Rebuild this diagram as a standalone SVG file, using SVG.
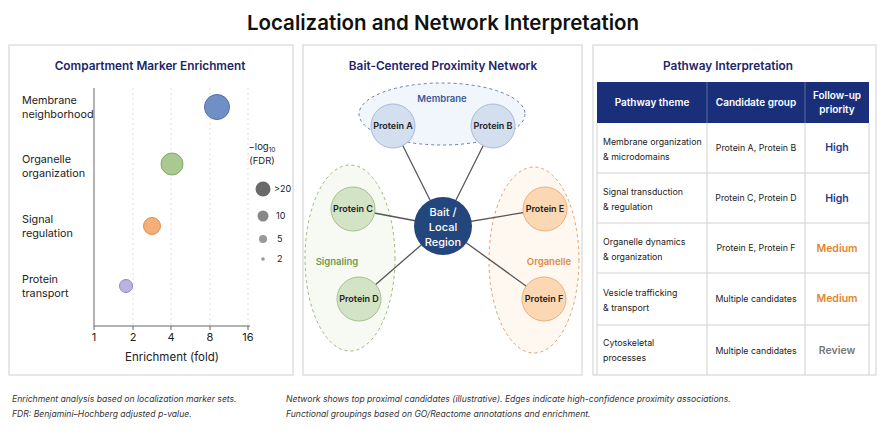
<svg xmlns="http://www.w3.org/2000/svg" width="887" height="443" viewBox="0 0 887 443">
<style>
text{font-family:"Inter","Liberation Sans",sans-serif;fill:#222}
.panel{fill:#fff;stroke:#d8d8d8;stroke-width:1.2}
.pt{font-size:11.8px;font-weight:600;fill:#1c2668;text-anchor:middle}
.lab{font-size:10.8px}
.tick{font-size:11px;text-anchor:middle}
.grid{stroke:#ddd;stroke-dasharray:2 3}
.node text{font-size:9px;font-weight:600;text-anchor:middle}
.edge{stroke:#555;stroke-width:1.3}
.grp{stroke-dasharray:3 3;stroke-width:1}
.th{font-size:10px;font-weight:600;fill:#fff;text-anchor:middle}
.td{font-size:8.8px}
.tl{stroke:#d0d0d0}
.foot{font-size:8.6px;font-style:italic;fill:#333}
</style>
<rect width="887" height="443" fill="#fff"/>
<text x="443" y="30" font-size="20.5" font-weight="600" text-anchor="middle" style="fill:#111">Localization and Network Interpretation</text>

<g id="panel-left">
<rect class="panel" x="9" y="45" width="284" height="330"/>
<text class="pt" x="150" y="70">Compartment Marker Enrichment</text>
<line class="grid" x1="133" y1="88" x2="133" y2="326"/>
<line class="grid" x1="171" y1="88" x2="171" y2="326"/>
<line class="grid" x1="210" y1="88" x2="210" y2="326"/>
<line class="grid" x1="248" y1="88" x2="248" y2="326"/>
<line x1="94" y1="88" x2="94" y2="326" stroke="#666"/>
<line x1="94" y1="326" x2="250" y2="326" stroke="#666"/>
<g stroke="#666"><line x1="94" y1="326" x2="94" y2="330"/><line x1="133" y1="326" x2="133" y2="330"/><line x1="171" y1="326" x2="171" y2="330"/><line x1="210" y1="326" x2="210" y2="330"/><line x1="248" y1="326" x2="248" y2="330"/></g>
<text class="tick" x="94" y="341">1</text><text class="tick" x="133" y="341">2</text><text class="tick" x="171" y="341">4</text><text class="tick" x="210" y="341">8</text><text class="tick" x="248" y="341">16</text>
<text x="172" y="361" font-size="11.5" text-anchor="middle">Enrichment (fold)</text>
<text class="lab" x="22" y="104">Membrane</text><text class="lab" x="22" y="118">neighborhood</text>
<text class="lab" x="22" y="163">Organelle</text><text class="lab" x="22" y="177">organization</text>
<text class="lab" x="22" y="223">Signal</text><text class="lab" x="22" y="237">regulation</text>
<text class="lab" x="22" y="283">Protein</text><text class="lab" x="22" y="297">transport</text>
<circle cx="217" cy="107" r="12.5" fill="#6f8fc6" stroke="#4e6fa8"/>
<circle cx="172" cy="164" r="11" fill="#a9c990" stroke="#82a86a"/>
<circle cx="152" cy="226" r="8.5" fill="#f3b07a" stroke="#dd8f50"/>
<circle cx="126" cy="286" r="6.5" fill="#b8b3e0" stroke="#8d88c4"/>
<text x="262" y="150" font-size="9.5" text-anchor="middle">−log<tspan font-size="6.5" dy="2">10</tspan></text>
<text x="262" y="164" font-size="9.5" text-anchor="middle">(FDR)</text>
<circle cx="263" cy="189" r="7.5" fill="#6a6a6a"/>
<circle cx="263" cy="216" r="5.5" fill="#888"/>
<circle cx="263" cy="239" r="4" fill="#999"/>
<circle cx="263" cy="259" r="1.8" fill="#999"/>
<text x="274" y="192" font-size="9">&gt;20</text>
<text x="276" y="219" font-size="9">10</text>
<text x="277" y="242" font-size="9">5</text>
<text x="277" y="262" font-size="9">2</text>
</g>

<g id="panel-middle">
<rect class="panel" x="303" y="45" width="279" height="330"/>
<text class="pt" x="443" y="70">Bait-Centered Proximity Network</text>
<ellipse class="grp" cx="442" cy="114" rx="83" ry="31" fill="#f1f6fc" stroke="#6c7fb0"/>
<ellipse class="grp" cx="350" cy="258" rx="45" ry="93" fill="#f6faf2" stroke="#9bb67f"/>
<ellipse class="grp" cx="534" cy="260" rx="45" ry="93" fill="#fff8f1" stroke="#e0a06a"/>
<text x="442" y="102" font-size="9.5" font-weight="600" text-anchor="middle" style="fill:#3d5a9c">Membrane</text>
<text x="337" y="265" font-size="9.5" font-weight="600" text-anchor="middle" style="fill:#6f9a4f">Signaling</text>
<text x="549" y="265" font-size="9.5" font-weight="600" text-anchor="middle" style="fill:#df8a45">Organelle</text>
<g id="edges">
<line class="edge" x1="443" y1="226" x2="393" y2="126"/>
<line class="edge" x1="443" y1="226" x2="493" y2="126"/>
<line class="edge" x1="443" y1="226" x2="353" y2="209"/>
<line class="edge" x1="443" y1="226" x2="359" y2="299"/>
<line class="edge" x1="443" y1="226" x2="545" y2="209"/>
<line class="edge" x1="443" y1="226" x2="544" y2="299"/>
</g>
<g id="protein-a" class="node"><circle cx="393" cy="126" r="22" fill="#d3deef" stroke="#a9b9d6"/><text x="393" y="129">Protein A</text></g>
<g id="protein-b" class="node"><circle cx="493" cy="126" r="22" fill="#d3deef" stroke="#a9b9d6"/><text x="493" y="129">Protein B</text></g>
<g id="protein-c" class="node"><circle cx="353" cy="209" r="22" fill="#d3e4c6" stroke="#a4c08c"/><text x="353" y="212">Protein C</text></g>
<g id="protein-d" class="node"><circle cx="359" cy="299" r="22" fill="#d3e4c6" stroke="#a4c08c"/><text x="359" y="302">Protein D</text></g>
<g id="protein-e" class="node"><circle cx="545" cy="209" r="22" fill="#fbd7b4" stroke="#ecb07c"/><text x="545" y="212">Protein E</text></g>
<g id="protein-f" class="node"><circle cx="544" cy="299" r="22" fill="#fbd7b4" stroke="#ecb07c"/><text x="544" y="302">Protein F</text></g>
<g id="bait" class="node"><circle cx="443" cy="226" r="29" fill="#23467d"/>
<text x="443" y="216" style="fill:#fff;font-size:11px;font-weight:500">Bait /</text>
<text x="443" y="231" style="fill:#fff;font-size:11px;font-weight:500">Local</text>
<text x="443" y="246" style="fill:#fff;font-size:11px;font-weight:500">Region</text></g>
</g>

<g id="panel-right">
<rect class="panel" x="593" y="45" width="283" height="330"/>
<text class="pt" x="728" y="70">Pathway Interpretation</text>
<rect x="597" y="82" width="272" height="41" fill="#1a2f7a"/>
<line x1="707" y1="82" x2="707" y2="123" stroke="#5a6aa0"/>
<line x1="805" y1="82" x2="805" y2="123" stroke="#5a6aa0"/>
<text class="th" x="652" y="106">Pathway theme</text>
<text class="th" x="756" y="106">Candidate group</text>
<text class="th" x="837" y="99">Follow-up</text>
<text class="th" x="837" y="113">priority</text>
<g class="tl">
<line x1="707" y1="123" x2="707" y2="375"/><line x1="805" y1="123" x2="805" y2="375"/>
<line x1="597" y1="123" x2="597" y2="375"/><line x1="869" y1="123" x2="869" y2="375"/>
<line x1="597" y1="173" x2="869" y2="173"/><line x1="597" y1="223" x2="869" y2="223"/>
<line x1="597" y1="273" x2="869" y2="273"/><line x1="597" y1="325" x2="869" y2="325"/>
</g>
<text class="td" x="603" y="145">Membrane organization</text><text class="td" x="603" y="160">&amp; microdomains</text>
<text class="td" x="603" y="195">Signal transduction</text><text class="td" x="603" y="210">&amp; regulation</text>
<text class="td" x="603" y="245">Organelle dynamics</text><text class="td" x="603" y="260">&amp; organization</text>
<text class="td" x="603" y="296">Vesicle trafficking</text><text class="td" x="603" y="311">&amp; transport</text>
<text class="td" x="603" y="346">Cytoskeletal</text><text class="td" x="603" y="361">processes</text>
<g class="td" text-anchor="middle">
<text x="756" y="151">Protein A, Protein B</text>
<text x="756" y="201">Protein C, Protein D</text>
<text x="756" y="251">Protein E, Protein F</text>
<text x="756" y="302">Multiple candidates</text>
<text x="756" y="354">Multiple candidates</text>
</g>
<g font-size="10.5" font-weight="600" text-anchor="middle">
<text x="837" y="151" style="fill:#1f3b8a">High</text>
<text x="837" y="202" style="fill:#1f3b8a">High</text>
<text x="837" y="252" style="fill:#e0862f">Medium</text>
<text x="837" y="302" style="fill:#e0862f">Medium</text>
<text x="837" y="354" style="fill:#777">Review</text>
</g>
</g>

<g id="footnotes">
<text class="foot" x="12" y="402">Enrichment analysis based on localization marker sets.</text>
<text class="foot" x="12" y="417">FDR: Benjamini–Hochberg adjusted p-value.</text>
<text class="foot" x="286" y="402">Network shows top proximal candidates (illustrative). Edges indicate high-confidence proximity associations.</text>
<text class="foot" x="286" y="417">Functional groupings based on GO/Reactome annotations and enrichment.</text>
</g>
</svg>
